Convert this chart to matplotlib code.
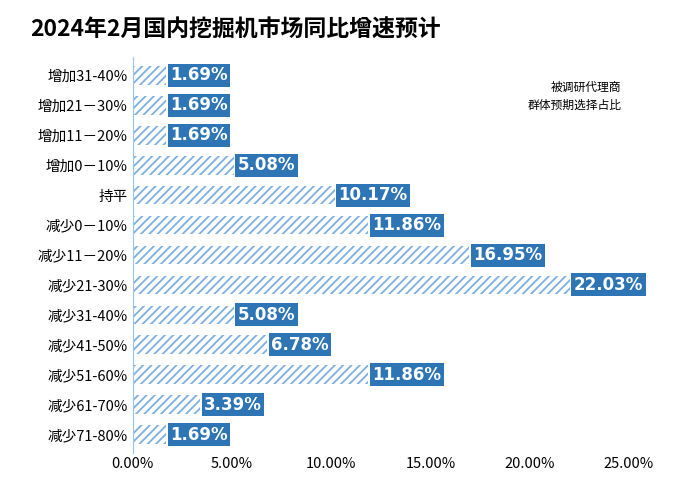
import matplotlib.pyplot as plt
import matplotlib as mpl
from matplotlib import font_manager

names = {f.name for f in font_manager.fontManager.ttflist}
cjk = [n for n in ['Noto Sans CJK SC', 'Noto Sans CJK JP', 'Noto Sans CJK TC', 'Noto Sans CJK KR'] if n in names]
mpl.rcParams['font.family'] = 'sans-serif'
mpl.rcParams['font.sans-serif'] = cjk + ['DejaVu Sans']
mpl.rcParams['hatch.linewidth'] = 1.3

categories = ['增加31-40%', '增加21－30%', '增加11－20%', '增加0－10%', '持平',
              '减少0－10%', '减少11－20%', '减少21-30%', '减少31-40%', '减少41-50%',
              '减少51-60%', '减少61-70%', '减少71-80%']
values = [1.69, 1.69, 1.69, 5.08, 10.17, 11.86, 16.95, 22.03, 5.08, 6.78, 11.86, 3.39, 1.69]
xticks = [0, 5, 10, 15, 20, 25]

fig = plt.figure(figsize=(6.74, 5), dpi=100)
ax = fig.add_axes([0.197, 0.095, 0.736, 0.79])
y = list(range(len(categories)))
ax.barh(y, values, height=0.62, color='white', edgecolor='#7DB0E0', hatch='////', linewidth=0)
for yi, v in zip(y, values):
    ax.text(v + 0.2, yi, f'{v:.2f}%', va='center', ha='left', color='white',
            fontsize=12, fontweight='bold', family='DejaVu Sans',
            bbox=dict(boxstyle='square,pad=0.15', facecolor='#2E75B6', edgecolor='none'))
ax.set_yticks(y)
ax.set_yticklabels(categories, fontsize=10.5)
ax.set_xlim(0, 25)
ax.set_ylim(12.6, -0.6)
ax.set_xticks(xticks)
ax.set_xticklabels([f'{t:.2f}%' for t in xticks], fontsize=10.5)
ax.tick_params(length=0)
for s in ['top', 'right', 'bottom']:
    ax.spines[s].set_visible(False)
ax.spines['left'].set_color('#9DC3E6')
ax.text(0.985, 0.94, '被调研代理商\n群体预期选择占比', transform=ax.transAxes,
        ha='right', va='top', fontsize=8.5, linespacing=1.5)
fig.text(0.045, 0.94, '2024年2月国内挖掘机市场同比增速预计', fontsize=16.5,
         fontweight='bold', va='center')
fig.savefig('out.png', dpi=100)
